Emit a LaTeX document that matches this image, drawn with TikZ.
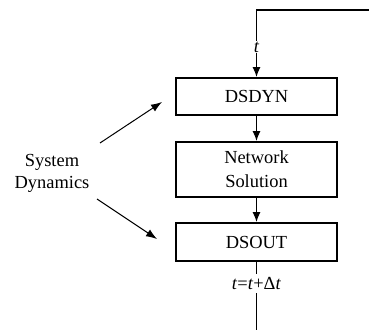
\documentclass[tikz,border=0pt]{standalone}
\usepackage{fontspec}
\setmainfont{Liberation Serif}
\usepackage{tikz}
\usetikzlibrary{arrows.meta}

\begin{document}
\begin{tikzpicture}[x=1bp,y=1bp,
    font=\fontsize{18.5}{22}\selectfont,
    blockbox/.style={draw,line width=1.6bp,minimum width=161bp,align=center},
    flowline/.style={line width=1.6bp,-{Latex[length=10bp,width=8bp]}},
    pointer/.style={line width=1bp,-{Latex[length=11bp,width=8bp]}}]

  \useasboundingbox (0,0) rectangle (369,330);

  \node[blockbox,minimum height=37bp] (dsdyn) at (256.5,233.5) {DSDYN};
  \node[blockbox,minimum height=55bp,font=\fontsize{18.5}{24}\selectfont] (netsol) at (256.5,160.5) {Network\\Solution};
  \node[blockbox,minimum height=38bp] (dsout) at (256.5,88) {DSOUT};

  \node[align=center] (sysdyn) at (52,157) {System\\Dynamics};

  \coordinate (feedin) at (369,320);
  \coordinate (feedcorner) at (256.5,320);
  \coordinate (exit) at (256.5,0);

  % time step loop
  \draw[flowline] (feedin) -- (feedcorner) -- node[pos=0.55,fill=white,inner sep=1bp] {\textit{t}} (dsdyn.north);
  \draw[flowline] (dsdyn) -- (netsol);
  \draw[flowline] (netsol) -- (dsout);
  \draw[line width=1.6bp] (dsout.south) -- node[pos=0.32,fill=white,inner sep=3bp] {\textit{t}=\textit{t}+Δ\textit{t}} (exit);

  % system dynamics pointers
  \coordinate (uptail) at (100,187);
  \coordinate (uptip) at (162,228);
  \coordinate (downtail) at (97,131);
  \coordinate (downtip) at (157,91);
  \draw[pointer] (uptail) -- (uptip);
  \draw[pointer] (downtail) -- (downtip);

\end{tikzpicture}
\end{document}
